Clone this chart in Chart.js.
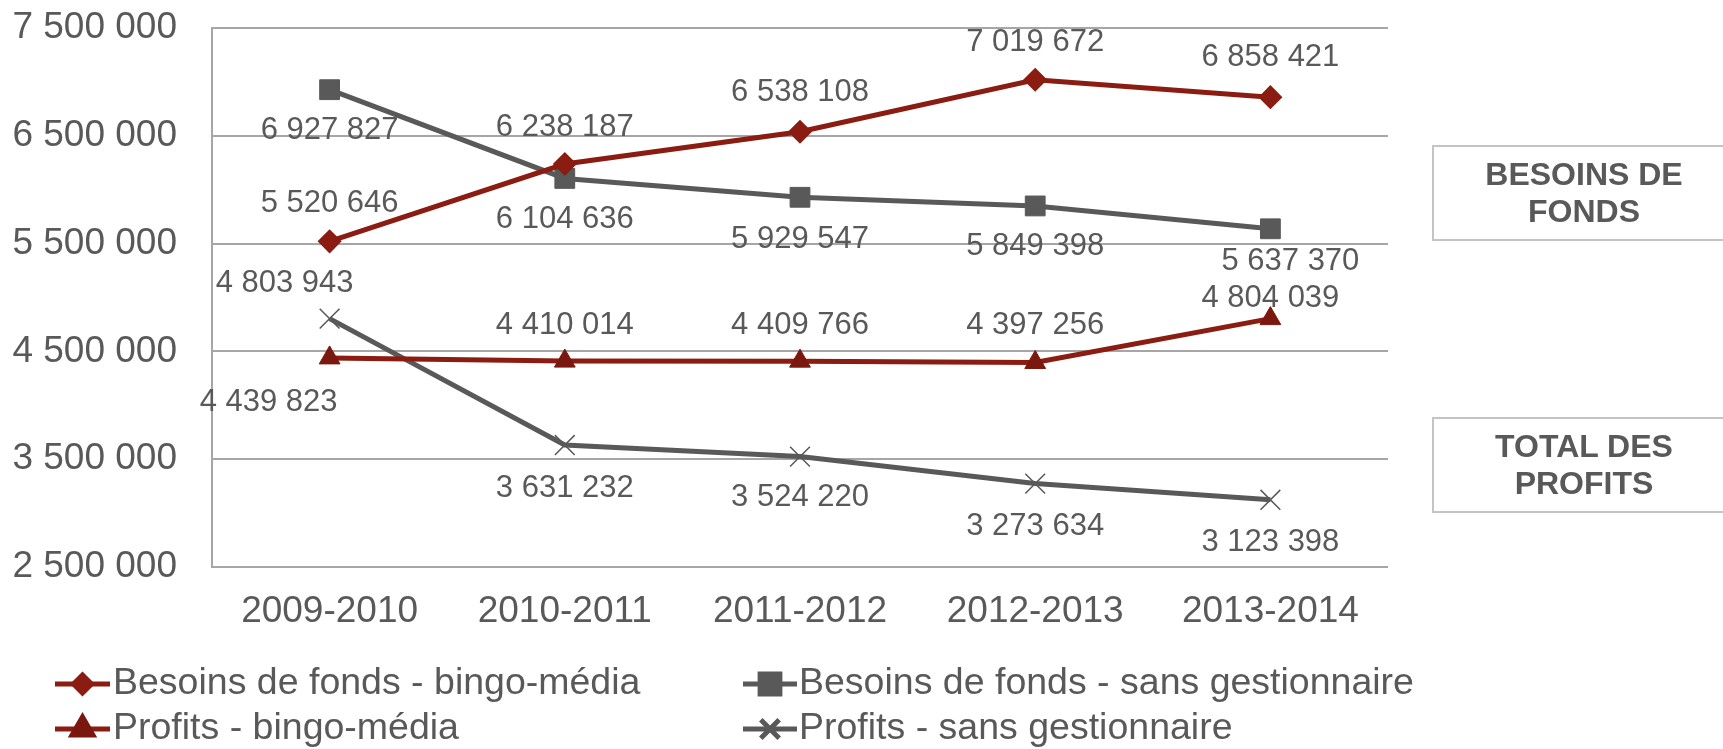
<!DOCTYPE html>
<html>
<head>
<meta charset="utf-8">
<script src="https://cdn.jsdelivr.net/npm/chart.js@4"></script>
<style>
  html, body { margin: 0; padding: 0; background: #fff; overflow: hidden; }
  #wrap { position: relative; width: 1723px; height: 749px; }
  .side-box {
    position: absolute;
    left: 1432px;
    width: 300px;
    height: 92px;
    border: 2px solid #c4c4c4;
    font-family: "Liberation Sans", Arial, sans-serif;
    font-weight: bold;
    font-size: 32px;
    line-height: 37px;
    color: #595959;
    text-align: center;
    display: flex;
    align-items: center;
    justify-content: center;
  }
</style>
</head>
<body>
<div id="wrap">
  <canvas id="chart"></canvas>
  <div class="side-box" style="top:145px">BESOINS DE<br>FONDS</div>
  <div class="side-box" style="top:417px">TOTAL DES<br>PROFITS</div>
</div>
<script>
const categories = ["2009-2010", "2010-2011", "2011-2012", "2012-2013", "2013-2014"];

const besoinsBingo = [5520646, 6238187, 6538108, 7019672, 6858421];
const besoinsSans = [6927827, 6104636, 5929547, 5849398, 5637370];
const profitsBingo = [4439823, 4410014, 4409766, 4397256, 4804039];
const profitsSans = [4803943, 3631232, 3524220, 3273634, 3123398];

const seriesNames = [
  "Besoins de fonds - bingo-média",
  "Besoins de fonds - sans gestionnaire",
  "Profits - bingo-média",
  "Profits - sans gestionnaire"
];

const yMin = 2500000;
const yMax = 7500000;
const yStep = 1000000;

const RED = "#8b1c12";
const RED_DARK = "#7a170f";
const GREY = "#595959";
const TEXT = "#595959";
const FONT = '"Liberation Sans", Arial, sans-serif';

// where each value label sits relative to its point [dx, dy]
const labelOffsets = [
  [[0, -38], [0, -37], [0, -39], [0, -37], [0, -40]],
  [[0, 41], [0, 41], [0, 42], [0, 41], [20, 33]],
  [[-61, 45], [0, -36], [0, -36], [0, -37], [0, -20]],
  [[-45, -35], [0, 43], [0, 41], [0, 43], [0, 43]]
];

// legend slots [lineStart, lineEnd, textX, y]
const legendSlots = [
  [55, 110, 113, 684],
  [743, 797, 799, 684],
  [55, 110, 113, 729],
  [743, 797, 799, 729]
];

const fmt = (n) => String(n).replace(/\B(?=(\d{3})+(?!\d))/g, " ");

const valueLabels = {
  id: "valueLabels",
  afterDatasetsDraw(chart) {
    const ctx = chart.ctx;
    ctx.save();
    ctx.font = `31px ${FONT}`;
    ctx.fillStyle = TEXT;
    ctx.textAlign = "center";
    ctx.textBaseline = "middle";
    chart.data.datasets.forEach((ds, di) => {
      const meta = chart.getDatasetMeta(di);
      meta.data.forEach((pt, i) => {
        const [dx, dy] = labelOffsets[di][i];
        ctx.fillText(fmt(ds.data[i]), pt.x + dx, pt.y + dy);
      });
    });
    ctx.restore();
  }
};

const customLegend = {
  id: "customLegend",
  afterDraw(chart) {
    const ctx = chart.ctx;
    ctx.save();
    chart.data.datasets.forEach((ds, di) => {
      const [x0, x1, tx, y] = legendSlots[di];
      ctx.strokeStyle = ds.borderColor;
      ctx.lineWidth = 5;
      ctx.beginPath();
      ctx.moveTo(x0, y);
      ctx.lineTo(x1, y);
      ctx.stroke();
      ctx.fillStyle = ds.pointBackgroundColor;
      ctx.strokeStyle = ds.pointBorderColor;
      Chart.helpers.drawPoint(ctx, {
        pointStyle: ds.pointStyle,
        radius: ds.legendRadius,
        rotation: 0,
        borderWidth: ds.pointBorderWidth
      }, (x0 + x1) / 2, y);
      ctx.font = `37.5px ${FONT}`;
      ctx.fillStyle = TEXT;
      ctx.textAlign = "left";
      ctx.textBaseline = "middle";
      ctx.fillText(ds.label, tx, y);
    });
    ctx.restore();
  }
};

const makeSeries = (label, data, color, fill, style, radius, bw, legendRadius) => ({
  label,
  data,
  borderColor: color,
  backgroundColor: color,
  borderWidth: 5,
  pointStyle: style,
  pointRadius: radius,
  pointHoverRadius: radius,
  pointBackgroundColor: fill,
  pointBorderColor: fill,
  pointBorderWidth: bw,
  legendRadius,
  tension: 0,
  fill: false
});

new Chart(document.getElementById("chart"), {
  type: "line",
  data: {
    labels: categories,
    datasets: [
      makeSeries(seriesNames[0], besoinsBingo, RED, RED, "rectRot", 11, 1.5, 9),
      makeSeries(seriesNames[1], besoinsSans, GREY, GREY, "rect", 14, 1, 14),
      makeSeries(seriesNames[2], profitsBingo, RED, RED_DARK, "triangle", 12, 1, 12),
      makeSeries(seriesNames[3], profitsSans, GREY, GREY, "crossRot", 14, 1.5, 13)
    ]
  },
  options: {
    responsive: true,
    maintainAspectRatio: false,
    animation: false,
    layout: { padding: { top: 28, right: 335, bottom: 0, left: 0 } },
    plugins: {
      legend: { display: false },
      title: { display: false },
      tooltip: { enabled: false }
    },
    scales: {
      x: {
        offset: true,
        grid: { display: false, drawTicks: false },
        border: { display: false },
        ticks: {
          color: TEXT,
          font: { family: FONT, size: 37 },
          padding: 23,
          maxRotation: 0
        },
        afterFit: (scale) => { scale.height = 182; }
      },
      y: {
        min: yMin,
        max: yMax,
        grid: { color: "#a6a6a6", lineWidth: 2, drawTicks: false },
        border: { display: true, color: "#a6a6a6", width: 2 },
        ticks: {
          stepSize: yStep,
          color: TEXT,
          font: { family: FONT, size: 37 },
          padding: 35,
          callback: (v) => fmt(v)
        },
        afterFit: (scale) => {
          scale.width = 212;
          scale.paddingTop = 0;
          scale.paddingBottom = 0;
        }
      }
    }
  },
  plugins: [valueLabels, customLegend]
});
</script>
</body>
</html>
